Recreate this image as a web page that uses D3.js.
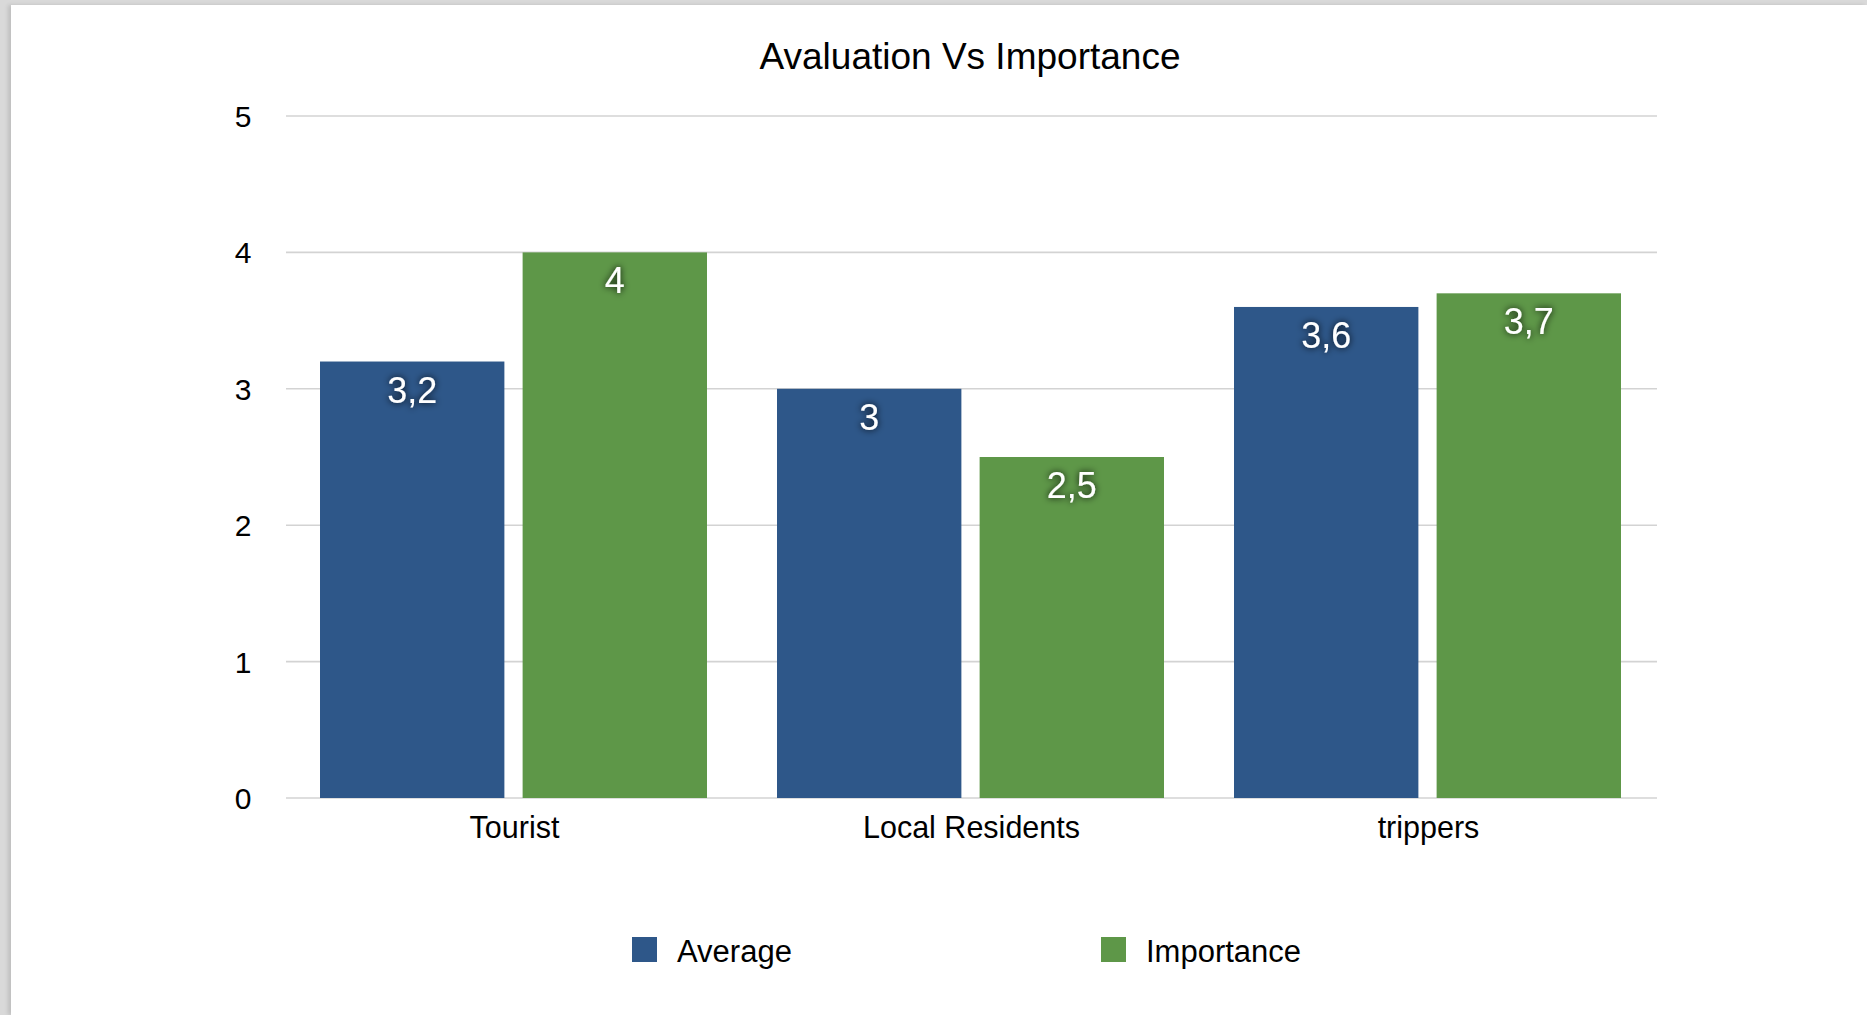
<!DOCTYPE html>
<html>
<head>
<meta charset="utf-8">
<script src="https://cdnjs.cloudflare.com/ajax/libs/d3/7.8.5/d3.min.js"></script>
<style>
  html, body { margin: 0; padding: 0; background: #d9d9d9; overflow: hidden; }
  #card {
    position: absolute; left: 11px; top: 5px; right: 0; bottom: 0;
    background: #fff;
    box-shadow: -3px 0 4px rgba(0,0,0,0.12);
  }
  svg { position: absolute; left: 0; top: 0; font-family: "Liberation Sans", Arial, sans-serif; }
</style>
</head>
<body>
<div id="card"></div>
<svg id="chart" width="1867" height="1015"></svg>
<script>
// chart data
var categories = ["Tourist", "Local Residents", "trippers"]
var seriesNames = ["Average", "Importance"]
var average = [3.2, 3, 3.6]
var importance = [4, 2.5, 3.7]
var yTicks = [0, 1, 2, 3, 4, 5]
var colors = ["#2e5789", "#5e9748"]

var rows = categories.map((c, i) => ({cat: c, values: [average[i], importance[i]]}))

const margin = {top: 116, left: 286, right: 210, bottom: 217}
const W = 1867, H = 1015
const innerW = W - margin.left - margin.right
const innerH = H - margin.top - margin.bottom

const svg = d3.select("#chart")

// glow behind the value labels
var defs = svg.append("defs")
var f = defs.append("filter").attr("id", "glow")
    .attr("x", "-30%").attr("y", "-30%").attr("width", "160%").attr("height", "160%")
f.append("feDropShadow")
    .attr("dx", 0).attr("dy", 0).attr("stdDeviation", 3.5)
    .attr("flood-color", "#000").attr("flood-opacity", 0.95)

// title
svg.append("text")
    .attr("x", 970).attr("y", 69)
    .attr("text-anchor", "middle")
    .style("font-size", "37px")
    .attr("fill", "#000")
    .text("Avaluation Vs Importance")

const g = svg.append("g").attr("transform", `translate(${margin.left},${margin.top})`)

const x0 = d3.scaleBand().domain(categories).range([0, innerW]).padding(0)
const x1 = d3.scaleBand().domain(seriesNames)
    .range([34, x0.bandwidth() - 36]).paddingInner(0.09)
const y = d3.scaleLinear().domain([0, 5]).range([innerH, 0])

// gridlines
g.selectAll("line.grid").data(yTicks).enter().append("line")
    .attr("class", "grid")
    .attr("x1", 0).attr("x2", innerW)
    .attr("y1", d => y(d)).attr("y2", d => y(d))
    .attr("stroke", "#d3d3d3").attr("stroke-width", 1.6)

// y tick labels
g.selectAll("text.ytick").data(yTicks).enter().append("text")
    .attr("class", "ytick")
    .attr("x", -43).attr("y", d => y(d) + 11)
    .attr("text-anchor", "middle")
    .style("font-size", "30px")
    .text(d => d)

// bars
var groups = g.selectAll("g.cat").data(rows).enter().append("g")
    .attr("class", "cat")
    .attr("transform", d => `translate(${x0(d.cat)},0)`)

groups.selectAll("rect").data(d => d.values.map((v, i) => ({name: seriesNames[i], v: v, i: i})))
    .enter().append("rect")
    .attr("x", d => x1(d.name))
    .attr("width", x1.bandwidth())
    .attr("y", d => y(d.v))
    .attr("height", d => innerH - y(d.v))
    .attr("fill", d => colors[d.i])

groups.selectAll("text.val").data(d => d.values.map((v, i) => ({name: seriesNames[i], v: v, i: i})))
    .enter().append("text")
    .attr("class", "val")
    .attr("x", d => x1(d.name) + x1.bandwidth() / 2)
    .attr("y", d => y(d.v) + 41)
    .attr("text-anchor", "middle")
    .attr("fill", "#fff")
    .attr("filter", "url(#glow)")
    .style("font-size", "36px")
    .text(d => String(d.v).replace(".", ","))

// category labels
g.selectAll("text.cat").data(categories).enter().append("text")
    .attr("class", "cat")
    .attr("x", d => x0(d) + x0.bandwidth() / 2)
    .attr("y", innerH + 40)
    .attr("text-anchor", "middle")
    .style("font-size", "30.5px")
    .text(d => d)

// legend
var legendX = [632, 1101]
var legend = svg.selectAll("g.legend").data(seriesNames).enter().append("g")
    .attr("class", "legend")
    .attr("transform", (d, i) => `translate(${legendX[i]},937)`)
legend.append("rect")
    .attr("width", 25).attr("height", 25)
    .attr("fill", (d, i) => colors[i])
legend.append("text")
    .attr("x", 45).attr("y", 25)
    .style("font-size", "31px")
    .text(d => d)
</script>
</body>
</html>
